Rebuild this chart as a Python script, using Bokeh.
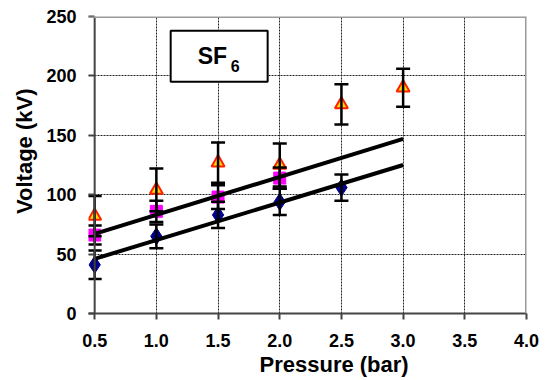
from bokeh.plotting import figure
from bokeh.models import (Range1d, FixedTicker, PrintfTickFormatter, Whisker, TeeHead,
                          ColumnDataSource, BoxAnnotation, Label, Span, Title)
from bokeh.embed import file_html
from bokeh.resources import INLINE

# ---- data ----
x_diamond = [0.5, 1.0, 1.5, 2.0, 2.5]
y_diamond = [41, 65, 83, 94, 106]
e_diamond = [12, 10, 11, 11, 11]

x_square = [0.5, 1.0, 1.5, 2.0]
y_square = [66, 86, 98, 114]
e_square = [8, 9, 10, 9]

x_triangle = [0.5, 1.0, 1.5, 2.0, 2.5, 3.0]
y_triangle = [82, 104, 127, 125, 176, 190]
e_triangle = [17, 18, 17, 18, 17, 16]

fit_x = [0.5, 3.0]
fit_upper = [67, 147]
fit_lower = [46, 125]

x_ticks = [0.5, 1.0, 1.5, 2.0, 2.5, 3.0, 3.5, 4.0]
y_ticks = [0, 50, 100, 150, 200, 250]

FONT = "Liberation Sans"
AXIS_COLOR = "#444444"

p = figure(width=548, height=380, output_backend="svg", toolbar_location=None,
           x_range=Range1d(0.45, 4.0), y_range=Range1d(0, 250),
           min_border_left=88, min_border_right=22, min_border_top=16, min_border_bottom=67)
p.background_fill_color = "white"
p.border_fill_color = "white"
p.outline_line_color = None

for ax in (p.xaxis[0], p.yaxis[0]):
    ax.major_tick_line_color = AXIS_COLOR
    ax.major_tick_line_width = 2
    ax.minor_tick_line_color = None
    ax.major_label_text_font = FONT
    ax.major_label_text_font_style = "bold"
    ax.major_label_text_font_size = "18px"
    ax.major_label_text_color = "black"

p.xaxis.axis_line_color = AXIS_COLOR
p.xaxis.axis_line_width = 2
p.xaxis.major_tick_in = 0
p.xaxis.major_tick_out = 6
p.xaxis.ticker = FixedTicker(ticks=x_ticks)
p.xaxis.formatter = PrintfTickFormatter(format="%.1f")
p.xaxis.major_label_standoff = 14

p.yaxis.axis_line_color = None
p.yaxis.major_tick_in = 6
p.yaxis.major_tick_out = 0
p.yaxis.ticker = FixedTicker(ticks=y_ticks)
p.yaxis.major_label_standoff = 12

for g in (p.xgrid[0], p.ygrid[0]):
    g.grid_line_color = "#222222"
    g.grid_line_width = 1
    g.grid_line_dash = "2 1"

# axis line at x = 0.5 and top/right frame edges
p.add_layout(Span(location=x_ticks[0], dimension="height", line_color=AXIS_COLOR, line_width=2))
p.add_layout(Span(location=y_ticks[-1], dimension="width", line_color="#9a9a9a", line_width=3))
p.add_layout(Span(location=x_ticks[-1], dimension="height", line_color="#9a9a9a", line_width=3))

def src(xs, ys, es):
    return ColumnDataSource(data=dict(x=xs, y=ys,
                                      up=[a + b for a, b in zip(ys, es)],
                                      lo=[a - b for a, b in zip(ys, es)]))

s_d = src(x_diamond, y_diamond, e_diamond)
s_s = src(x_square, y_square, e_square)
s_t = src(x_triangle, y_triangle, e_triangle)

for s in (s_d, s_s, s_t):
    w = Whisker(source=s, base="x", upper="up", lower="lo", dimension="height",
                line_color="black", line_width=2.5,
                upper_head=TeeHead(size=14, line_color="black", line_width=2.5),
                lower_head=TeeHead(size=14, line_color="black", line_width=2.5),
                level="glyph")
    p.add_layout(w)

p.scatter("x", "y", source=s_d, marker="diamond", size=17, fill_color="#00008b",
          line_color="#00008b")
p.scatter("x", "y", source=s_s, marker="square", size=12, fill_color="#ff00ff",
          line_color="#ff00ff")
p.scatter("x", "y", source=s_t, marker="triangle", size=13, fill_color="#ffd700",
          line_color="#ff2000", line_width=2)

p.line(fit_x, fit_upper, line_color="black", line_width=4)
p.line(fit_x, fit_lower, line_color="black", line_width=4)

# SF6 box
box = BoxAnnotation(left=1.116, right=1.902, bottom=195, top=238,
                    fill_color="white", fill_alpha=1.0,
                    line_color="black", line_width=2, line_alpha=1.0)
p.add_layout(box)
p.add_layout(Label(x=1.335, y=217, text="SF", text_font=FONT, text_font_style="bold",
                   text_font_size="23px", text_align="left", text_baseline="middle",
                   text_color="black"))
p.add_layout(Label(x=1.602, y=208.5, text="6", text_font=FONT, text_font_style="bold",
                   text_font_size="16px", text_align="left", text_baseline="middle",
                   text_color="black"))

# axis titles
p.add_layout(Title(text="Pressure (bar)", align="left", offset=171,
                   text_font=FONT, text_font_style="bold", text_font_size="22px",
                   text_color="black", standoff=0), "below")
p.add_layout(Title(text="Voltage (kV)", align="right", offset=72,
                   text_font=FONT, text_font_style="bold", text_font_size="22px",
                   text_color="black", standoff=14), "left")

open("out.html", "w").write(file_html(p, INLINE))
